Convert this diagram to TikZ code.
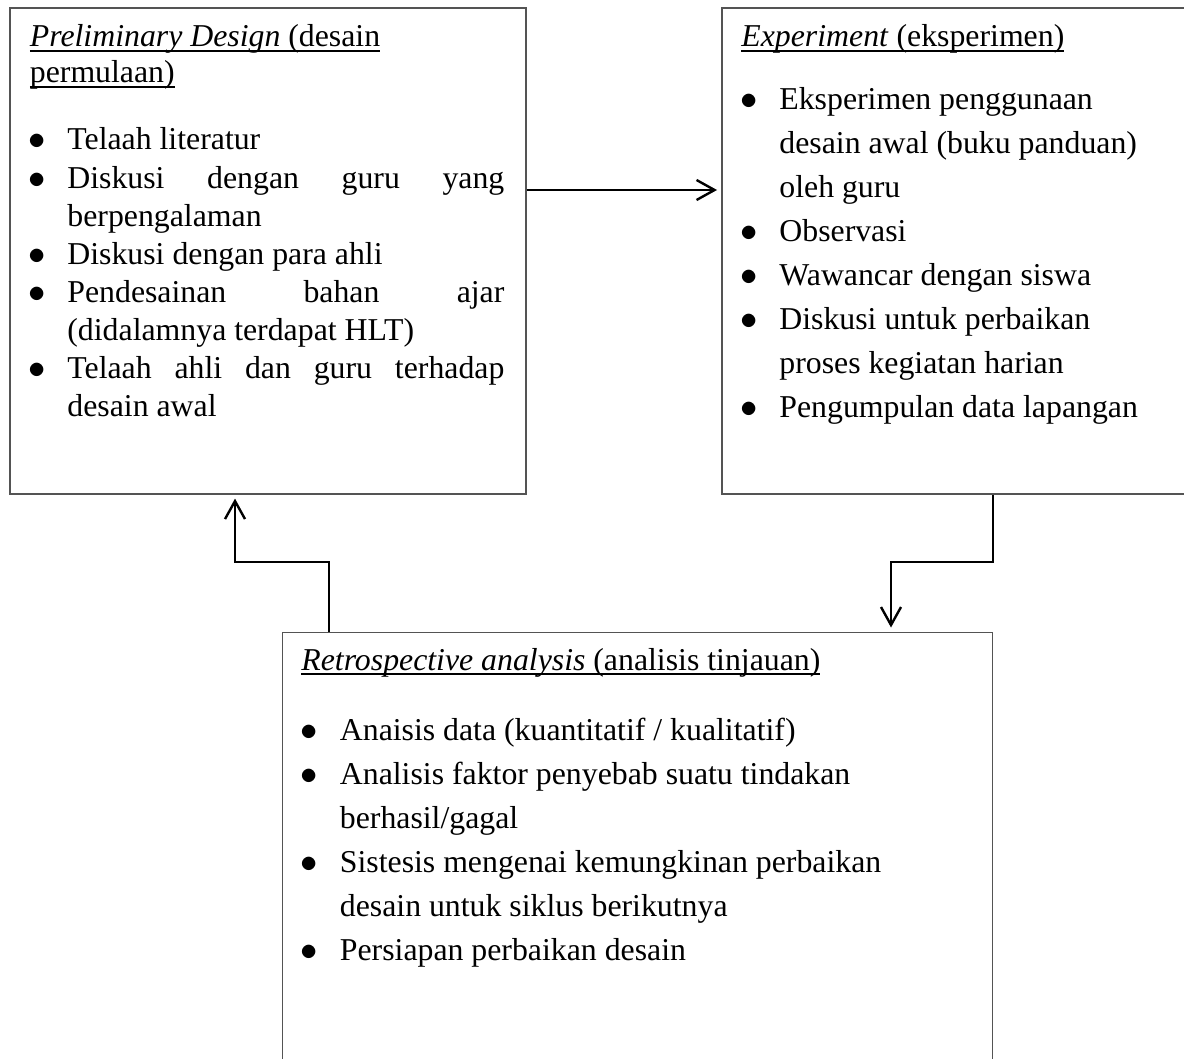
\documentclass[tikz,border=0pt]{standalone}
\usepackage{fontspec}
\setmainfont{Liberation Serif}
\usetikzlibrary{arrows.meta,calc}
\definecolor{BoxClr}{rgb}{0.33,0.33,0.33}
\definecolor{ArrowClr}{rgb}{0,0,0}
\hyphenpenalty=10000
\exhyphenpenalty=10000
\newsavebox{\ulbox}
\newcommand{\uln}[1]{\leavevmode\sbox{\ulbox}{#1}\rlap{\rule[-2.5pt]{\wd\ulbox}{0.9pt}}\usebox{\ulbox}}
\newcommand{\bul}[1]{\hangindent=29pt\hangafter=1\noindent\makebox[29pt][l]{\hspace{9.3pt}$\bullet$}#1\par}

\begin{document}
\begin{tikzpicture}[x=0.5pt,y=-0.5pt]
\tikzset{
  box/.style={draw=BoxClr,line width=0.8pt,inner sep=0pt,anchor=north west},
  head/.style={anchor=base west,inner sep=0pt,text width=#1,align=flush left,
    font=\fontsize{15.9pt}{18pt}\selectfont},
  list/.style={anchor=base west,inner sep=0pt,text width=#1,
    font=\fontsize{15.9pt}{22pt}\selectfont},
  arr/.style={draw=ArrowClr,line width=1.2pt,-{Straight Barb[length=9pt,width=10pt]},shorten >=2pt}
}
\useasboundingbox (0,0) rectangle (1184,1059);

\node[box,minimum width=258pt,minimum height=242.75pt] (pd) at (9,7.5) {};
\node[box,minimum width=240pt,minimum height=242.75pt] (ex) at (721,7.5) {};
\node[box,minimum width=355pt,minimum height=220pt] (rt) at (281.5,631.5) {};

\node[head=250pt] (pdHead) at ($(pd.north west)+(20.5,39.5)$)
  {\uln{\textit{Preliminary Design} (desain}\\\uln{permulaan)}};
\node[head=230pt] (exHead) at ($(ex.north west)+(20,39.5)$)
  {\uln{\textit{Experiment} (eksperimen)}};
\node[head=330pt] (rtHead) at ($(rt.north west)+(19.5,38.5)$)
  {\uln{\textit{Retrospective analysis} (analisis tinjauan)}};

\node[list=247.5pt,align=justify,font=\fontsize{15.9pt}{19.07pt}\selectfont] (pdList)
  at ($(pd.north west)+(0,142.5)$) {%
  \bul{Telaah literatur}
  \bul{Diskusi dengan guru yang\linebreak berpengalaman}
  \bul{Diskusi dengan para ahli}
  \bul{Pendesainan bahan ajar\linebreak (didalamnya terdapat HLT)}
  \bul{Telaah ahli dan guru terhadap\linebreak desain awal}};

\node[list=219pt,align=flush left,font=\fontsize{15.9pt}{21.93pt}\selectfont] (exList)
  at ($(ex.north west)+(0,102.5)$) {%
  \bul{Eksperimen penggunaan desain awal (buku panduan) oleh guru}
  \bul{Observasi}
  \bul{Wawancar dengan siswa}
  \bul{Diskusi untuk perbaikan proses kegiatan harian}
  \bul{Pengumpulan data lapangan}};

\node[list=319pt,align=flush left] (rtList) at ($(rt.north west)+(0,108.5)$) {%
  \bul{Anaisis data (kuantitatif / kualitatif)}
  \bul{Analisis faktor penyebab suatu tindakan berhasil/gagal}
  \bul{Sistesis mengenai kemungkinan perbaikan desain untuk siklus berikutnya}
  \bul{Persiapan perbaikan desain}};

\coordinate (a1) at ($(pd.north east)+(0,182.5)$);
\draw[arr] (a1) -- (a1 -| ex.west);

\coordinate (e1) at (891,562);
\draw[arr] (ex.south -| rt.east) |- (e1) -- (e1 |- rt.north);

\coordinate (r1) at (235,562);
\coordinate (r2) at ($(rt.north west)+(47.5,0)$);
\draw[arr] (r2) |- (r1) -- (r1 |- pd.south);

\end{tikzpicture}
\end{document}
